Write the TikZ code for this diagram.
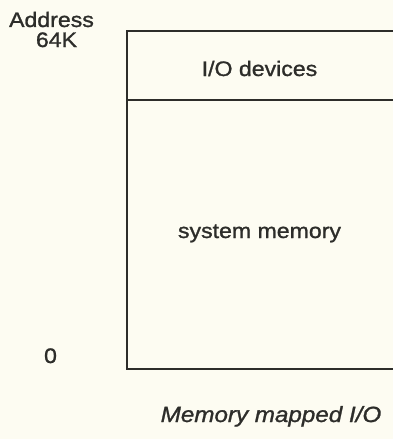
\documentclass[tikz,border=0pt]{standalone}
\usepackage{fontspec}
\setmainfont[FakeStretch=1.1,FakeBold=1.2]{Liberation Sans}
\definecolor{paper}{RGB}{253,252,242}
\definecolor{ink}{RGB}{45,45,42}
\begin{document}
\begin{tikzpicture}[x=1pt,y=-1pt,
  lbl/.style={inner sep=0pt,anchor=base,text=ink,font=\fontsize{21}{24}\selectfont},
  captionlbl/.style={inner sep=0pt,anchor=base,text=ink,font=\fontsize{22}{26}\selectfont\itshape},
  mapedge/.style={draw=ink,line width=2pt}]
\fill[paper] (0,0) rectangle (393,439);
\useasboundingbox (0,0) rectangle (393,439);
% memory map outline
\coordinate (tl) at (127,31);
\coordinate (tr) at (393,31);
\coordinate (ml) at (127,100);
\coordinate (mr) at (393,100);
\coordinate (bl) at (127,369);
\coordinate (br) at (393,369);
\draw[mapedge] (tr) -- (tl) -- (bl) -- (br);
\draw[mapedge] (ml) -- (mr);
% labels
\node[lbl] (addr) at (51.5,27) {Address};
\node[lbl] (top) at (56.5,47) {64K};
\node[lbl] (zero) at (50.5,363) {0};
\node[lbl] (io) at (259.5,76) {I/O devices};
\node[lbl] (sys) at (259.5,238) {system memory};
\node[captionlbl] (caption) at (271,422) {Memory mapped I/O};
\end{tikzpicture}
\end{document}
